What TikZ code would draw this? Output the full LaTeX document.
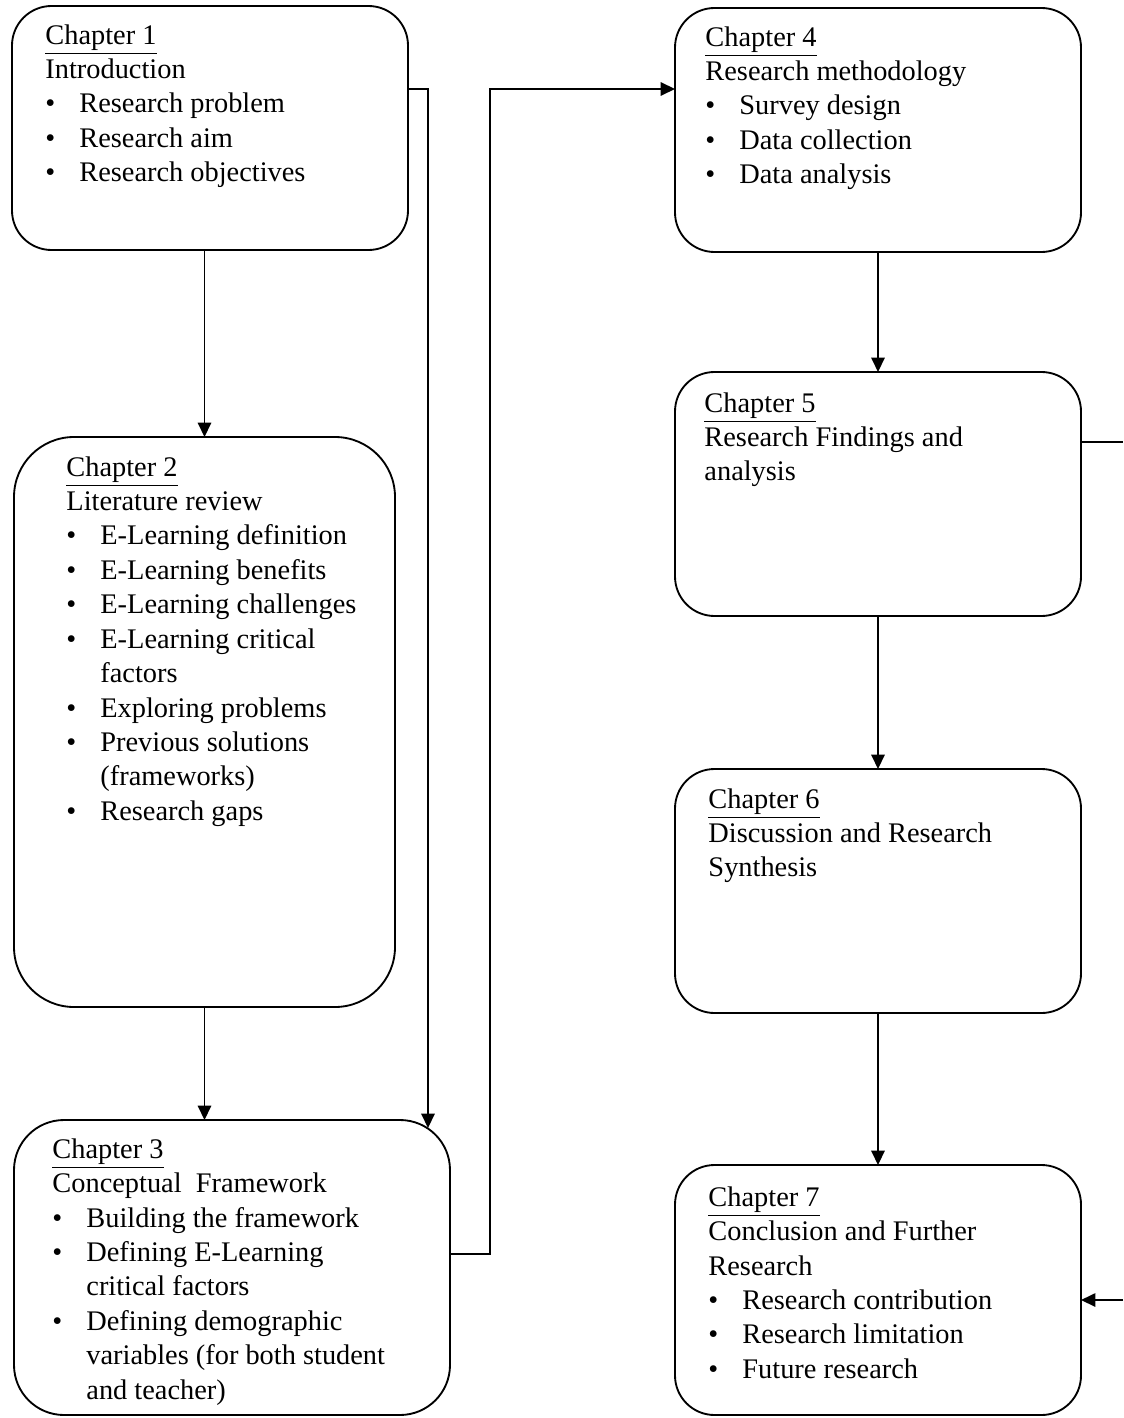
\documentclass[tikz,border=0pt]{standalone}
\usepackage{fontspec}
\setmainfont{Liberation Serif}
\usetikzlibrary{arrows.meta}
\newcommand{\pxu}{0.43pt}
\newcommand{\bul}{\makebox[14.6pt][l]{\textbullet}}
\newcommand{\ind}{\hspace*{14.6pt}}
\begin{document}
\begin{tikzpicture}[x=\pxu, y=-\pxu,
    chapbox/.style={draw, line width=0.8pt, rounded corners=#1, outer sep=0pt, inner sep=0pt},
    chapbox/.default=17pt,
    chaptext/.style={anchor=north west, inner sep=0pt, align=left, font=\fontsize{12.2}{14.8}\selectfont},
    arr/.style={line width=0.7pt, -{Triangle[length=6.2pt,width=5.8pt]}},
    link/.style={line width=0.7pt}]
\useasboundingbox (0,0) rectangle (1123,1418);
% chapter boxes
\node[chapbox, minimum width=396*\pxu, minimum height=244*\pxu] (c1) at (210,128) {};
\node[chapbox=25.8pt, minimum width=381*\pxu, minimum height=570*\pxu] (c2) at (204.5,722) {};
\node[chapbox=21.5pt, minimum width=436*\pxu, minimum height=295*\pxu] (c3) at (232,1267.5) {};
\node[chapbox, minimum width=406*\pxu, minimum height=244*\pxu] (c4) at (878,130) {};
\node[chapbox, minimum width=406*\pxu, minimum height=244*\pxu] (c5) at (878,494) {};
\node[chapbox, minimum width=406*\pxu, minimum height=244*\pxu] (c6) at (878,891) {};
\node[chapbox, minimum width=406*\pxu, minimum height=250*\pxu] (c7) at (878,1290) {};
% texts
\node[chaptext] (t1) at (45,24) {\underline{Chapter 1}\\Introduction\\\bul Research problem\\\bul Research aim\\\bul Research objectives};
\node[chaptext] (t2) at (66,456) {\underline{Chapter 2}\\Literature review\\\bul E-Learning definition\\\bul E-Learning benefits\\\bul E-Learning challenges\\\bul E-Learning critical\\\ind factors\\\bul Exploring problems\\\bul Previous solutions\\\ind (frameworks)\\\bul Research gaps};
\node[chaptext] (t3) at (52,1138) {\underline{Chapter 3}\\Conceptual\ \ Framework\\\bul Building the framework\\\bul Defining E-Learning\\\ind critical factors\\\bul Defining demographic\\\ind variables (for both student\\\ind and teacher)};
\node[chaptext] (t4) at (705,26) {\underline{Chapter 4}\\Research methodology\\\bul Survey design\\\bul Data collection\\\bul Data analysis};
\node[chaptext] (t5) at (704,392) {\underline{Chapter 5}\\Research Findings and\\analysis};
\node[chaptext] (t6) at (708,788) {\underline{Chapter 6}\\Discussion and Research\\Synthesis};
\node[chaptext] (t7) at (708,1186) {\underline{Chapter 7}\\Conclusion and Further\\Research\\\bul Research contribution\\\bul Research limitation\\\bul Future research};
% junction points
\coordinate (j1) at (428,89);
\coordinate (j1e) at (428,1128);
\coordinate (j2) at (490,89);
\coordinate (j2b) at (490,1254);
\coordinate (o5) at (1123,442);
\coordinate (i7) at (1123,1300);
% connectors
\draw[arr] (c2.north |- c1.south) -- (c2.north);
\draw[arr] (c2.south) -- (c2.south |- c3.north);
\draw[arr] (c1.east |- j1) -- (j1) -- (j1e);
\draw[arr] (c3.east |- j2b) -- (j2b) -- (j2) -- (c4.west |- j2);
\draw[arr] (c4.south) -- (c5.north);
\draw[arr] (c5.south) -- (c6.north);
\draw[arr] (c6.south) -- (c7.north);
\draw[link] (c5.east |- o5) -- (o5);
\draw[arr] (i7) -- (c7.east |- i7);
\end{tikzpicture}
\end{document}
